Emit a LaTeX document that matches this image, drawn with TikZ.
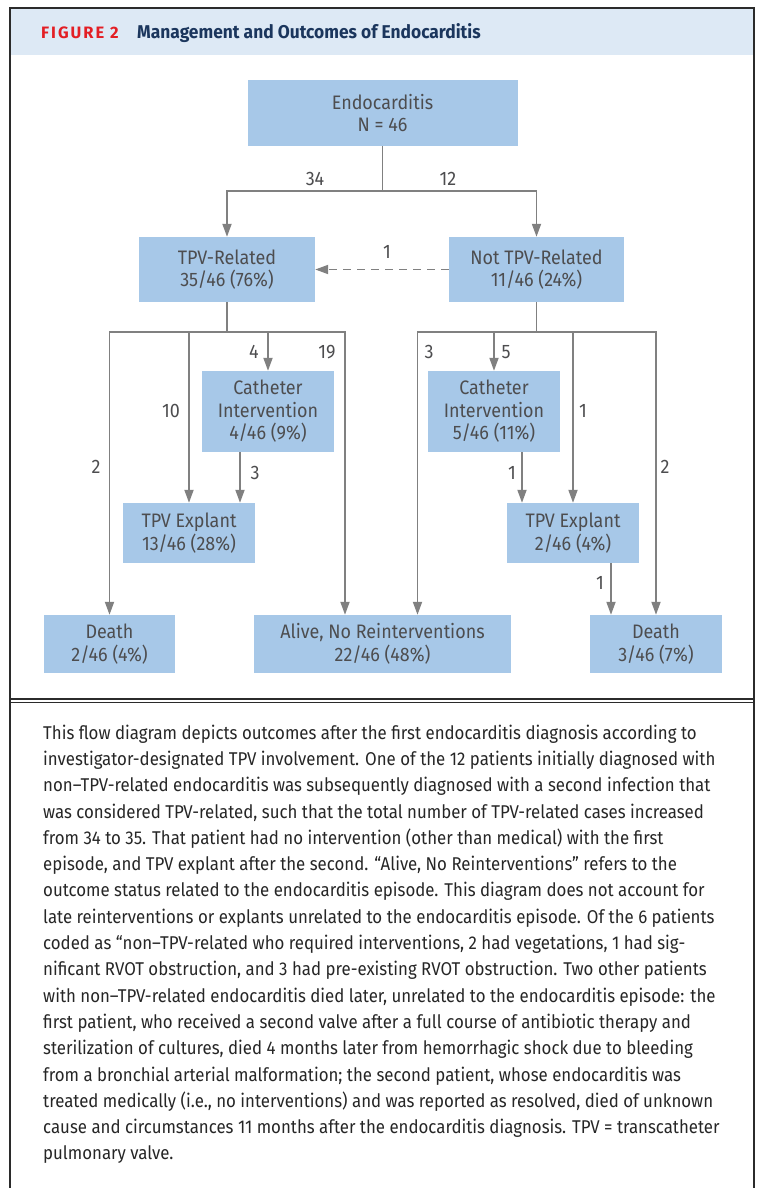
\documentclass[tikz,border=0pt]{standalone}
\usepackage{fontspec}
\setmainfont{Fira Sans}
\newfontfamily\boxfont[FakeStretch=0.92]{Fira Sans}
\newfontfamily\capfont[FakeStretch=0.91]{Fira Sans}
\newfontfamily\ttlfont[FakeStretch=0.94]{Fira Sans}
\newfontfamily\figfont[LetterSpace=12]{Fira Sans}
\usetikzlibrary{arrows.meta}
\definecolor{boxblue}{HTML}{A7C8E8}
\definecolor{bandblue}{HTML}{DDE9F5}
\definecolor{txtgray}{HTML}{4D4D4F}
\definecolor{linegray}{HTML}{808080}
\definecolor{figred}{HTML}{E31E24}
\definecolor{navy}{HTML}{1B365D}
\definecolor{framegray}{HTML}{2B2B2B}
\tikzset{
  boxnode/.style={fill=boxblue, inner sep=0pt, align=center, text=txtgray,
    font=\boxfont\fontsize{19.5}{22.5}\selectfont},
  numlabel/.style={inner sep=0pt, text=txtgray, font=\boxfont\fontsize{19.5}{22.5}\selectfont},
  conn/.style={draw=linegray, line width=1.8pt},
  arr/.style={conn, -{Triangle[length=13pt,width=9pt]}},
  frame/.style={draw=framegray, line width=1.5pt}
}
\begin{document}
\begin{tikzpicture}[x=1pt,y=-1pt]
\useasboundingbox (0,0) rectangle (756,1188);
% header band and frame
\fill[bandblue] (10,8) rectangle (754,55);
\draw[frame] (10,1188) -- (10,8) -- (754,8) -- (754,1188);
\draw[frame] (10,699) -- (754,699);
\draw[frame] (10,702.5) -- (754,702.5);
\node[anchor=base west, inner sep=0pt, text=figred, font=\figfont\bfseries\fontsize{16.5}{19}\selectfont] (figlbl) at (41,39) {FIGURE 2};
\node[anchor=base west, inner sep=0pt, text=navy, font=\ttlfont\bfseries\fontsize{18.5}{21}\selectfont] (title) at (137,39) {Management and Outcomes of Endocarditis};
% boxes
\node[boxnode, minimum width=270pt, minimum height=66pt] (endo) at (382.5,113) {Endocarditis\\N = 46};
\node[boxnode, minimum width=176pt, minimum height=65pt] (tpv) at (227,269.5) {TPV-Related\\35/46 (76\%)};
\node[boxnode, minimum width=175pt, minimum height=65pt] (ntpv) at (536.5,269.5) {Not TPV-Related\\11/46 (24\%)};
\node[boxnode, minimum width=132pt, minimum height=81pt] (catL) at (268,411.5) {Catheter\\Intervention\\4/46 (9\%)};
\node[boxnode, minimum width=132pt, minimum height=81pt] (catR) at (494,411.5) {Catheter\\Intervention\\5/46 (11\%)};
\node[boxnode, minimum width=132pt, minimum height=60pt] (expL) at (189,533) {TPV Explant\\13/46 (28\%)};
\node[boxnode, minimum width=132pt, minimum height=60pt] (expR) at (573,533) {TPV Explant\\2/46 (4\%)};
\node[boxnode, minimum width=131pt, minimum height=58pt] (deathL) at (109.5,644) {Death\\2/46 (4\%)};
\node[boxnode, minimum width=257pt, minimum height=58pt] (alive) at (382.5,644) {Alive, No Reinterventions\\22/46 (48\%)};
\node[boxnode, minimum width=132pt, minimum height=58pt] (deathR) at (656,644) {Death\\3/46 (7\%)};
% bus coordinates
\coordinate (b0) at (382.5,191);
\coordinate (b1) at (227,332);
\coordinate (b2) at (536.5,332);
% top split
\draw[conn] (endo.south) -- (b0);
\draw[arr] (b0) -| (tpv.north);
\draw[arr] (b0) -| (ntpv.north);
\draw[arr, dash pattern=on 8pt off 6pt] (ntpv.west) -- (tpv.east);
% left branch
\draw[conn] (tpv.south) -- (b1);
\draw[arr] (b1) -| (deathL.north);
\draw[arr] (b1) -| ([xshift=-37.5pt]alive.north);
\draw[arr] (b1 -| expL.north) -- (expL.north);
\draw[arr] (b1 -| catL.north) -- (catL.north);
\draw[arr] ([xshift=-28pt]catL.south) -- ([xshift=-28pt]catL.south |- expL.north);
% right branch
\draw[conn] (ntpv.south) -- (b2);
\draw[arr] (b2) -| ([xshift=35pt]alive.north);
\draw[arr] (b2) -| (deathR.north);
\draw[arr] (b2 -| catR.north) -- (catR.north);
\draw[arr] (b2 -| expR.north) -- (expR.north);
\draw[arr] ([xshift=28pt]catR.south) -- ([xshift=28pt]catR.south |- expR.north);
\draw[arr] ([xshift=38pt]expR.south) -- ([xshift=38pt]expR.south |- deathR.north);
% number labels
\node[numlabel] (n34) at (315,179) {34};
\node[numlabel] (n12) at (448,179) {12};
\node[numlabel] (nd1) at (387,252) {1};
\node[numlabel] (nl4) at (254,352) {4};
\node[numlabel] (nl19) at (327,352) {19};
\node[numlabel] (nl10) at (171,411) {10};
\node[numlabel] (nl2) at (96,467) {2};
\node[numlabel] (nl3) at (255,473) {3};
\node[numlabel] (nr3) at (429,352) {3};
\node[numlabel] (nr5) at (506,352) {5};
\node[numlabel] (nr1) at (583,411) {1};
\node[numlabel] (nr2) at (665,467) {2};
\node[numlabel] (nr1b) at (512,473) {1};
\node[numlabel] (nr1c) at (600,583) {1};
% caption
\node[anchor=north west, inner sep=0pt, align=left, text=black!85, font=\capfont\fontsize{18.5}{26.3}\selectfont] (caption) at (43,724.5) {%
This flow diagram depicts outcomes after the first endocarditis diagnosis according to\\
investigator-designated TPV involvement. One of the 12 patients initially diagnosed with\\
non–TPV-related endocarditis was subsequently diagnosed with a second infection that\\
was considered TPV-related, such that the total number of TPV-related cases increased\\
from 34 to 35. That patient had no intervention (other than medical) with the first\\
episode, and TPV explant after the second. “Alive, No Reinterventions” refers to the\\
outcome status related to the endocarditis episode. This diagram does not account for\\
late reinterventions or explants unrelated to the endocarditis episode. Of the 6 patients\\
coded as “non–TPV-related who required interventions, 2 had vegetations, 1 had sig-\\
nificant RVOT obstruction, and 3 had pre-existing RVOT obstruction. Two other patients\\
with non–TPV-related endocarditis died later, unrelated to the endocarditis episode: the\\
first patient, who received a second valve after a full course of antibiotic therapy and\\
sterilization of cultures, died 4 months later from hemorrhagic shock due to bleeding\\
from a bronchial arterial malformation; the second patient, whose endocarditis was\\
treated medically (i.e., no interventions) and was reported as resolved, died of unknown\\
cause and circumstances 11 months after the endocarditis diagnosis. TPV = transcatheter\\
pulmonary valve.};
\end{tikzpicture}
\end{document}
